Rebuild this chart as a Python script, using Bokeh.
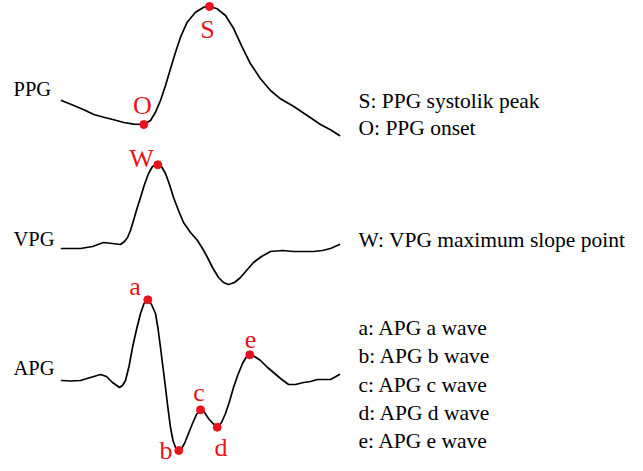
from bokeh.plotting import figure
from bokeh.models import Range1d
from bokeh.core.properties import value
from bokeh.embed import file_html
from bokeh.resources import INLINE

# ---- data (in picture pixel units) ----
ppg_x = [61, 73.3, 83.3, 93.3, 103.3, 113.3, 123.3, 133.3, 143.3, 150, 155, 160, 165, 170, 175, 180,
         186.7, 195, 203.3, 209, 216.7, 225, 233.3, 241.7, 250, 260, 270, 280, 293.3, 306.7, 320, 330, 339]
ppg_y = [100, 105, 109.3, 114, 116.7, 119.3, 122, 123.7, 124, 120, 111.7, 100, 85, 68.3, 51.7, 36.7,
         21.7, 11.7, 6.7, 6, 8.3, 15, 28.3, 46.7, 63.3, 78.3, 90, 98.3, 106, 115, 124, 129.3, 135]

vpg_x = [61, 80, 92, 103, 112, 120, 124, 127, 130, 133, 136.5, 140, 144, 148, 152, 157.3, 161, 165, 169,
         173, 178, 183, 190, 197, 202, 207, 212, 218, 223, 228, 234, 240, 246, 253, 261, 270, 282, 293,
         303, 313, 322, 330, 339]
vpg_y = [248, 248, 246, 242, 243, 244, 241, 237, 230, 220, 208, 197, 184, 173, 166, 164, 166, 173, 184,
         197, 210, 222, 232, 240, 248, 257, 267, 277, 282, 284, 282, 277, 270, 262, 256, 251, 250, 251,
         251, 251, 250, 248, 244]

apg_x = [61, 70, 80, 90, 100, 106, 112, 119, 122, 125, 128.5, 132, 136, 140, 143.5, 147.3, 151, 155,
         157.5, 160, 162.5, 165, 167.5, 170, 172.5, 175, 178.3, 181, 184, 188, 192, 196, 200, 204, 208,
         212.5, 216.7, 221, 225, 229, 233, 237.5, 242, 245.5, 249.3, 254, 260, 266, 273, 280, 288, 295,
         303, 310, 317, 324, 330, 339]
apg_y = [380, 380.5, 380, 377, 374, 376, 382, 387, 385, 380, 366, 347, 329, 313, 303, 299, 304, 313,
         328, 347, 367, 387, 408, 427, 440, 447, 450, 448, 443, 433, 423, 414, 409, 412, 418, 423, 426.7,
         422, 413, 401, 387, 374, 363, 357, 354.3, 356, 360, 366, 372, 378, 384, 384, 382, 381, 379, 379,
         379, 374]

# marked points
pt_x = [209, 143.3, 157.3, 147.3, 178.3, 200, 216.7, 249.3]
pt_y = [6, 124, 164.3, 299.3, 450, 409.3, 426.7, 354.3]

# red point labels (center x, baseline y)
red_labels = ["S", "O", "W", "a", "b", "c", "d", "e"]
red_lx = [207, 142, 141, 134.5, 165.5, 198.5, 220.5, 250]
red_ly = [29, 105, 158, 286, 450, 392, 447, 339]

# signal names
sig_labels = ["PPG", "VPG", "APG"]
sig_lx = [13, 13, 13]
sig_ly = [88, 238, 367]

# legend descriptions
desc_labels = ["S: PPG systolik peak", "O: PPG onset", "W: VPG maximum slope point",
               "a: APG a wave", "b: APG b wave", "c: APG c wave", "d: APG d wave", "e: APG e wave"]
desc_x = [358] * 8
desc_y = [100.6, 127, 239, 327, 355.5, 384, 412, 440.5]

RED = "#e8131b"
FONT = value("Liberation Serif")

p = figure(width=627, height=463, output_backend="svg", toolbar_location=None,
           x_range=Range1d(0, 627), y_range=Range1d(463, 0),
           min_border=0, min_border_left=0, min_border_right=0, min_border_top=0, min_border_bottom=0)
p.axis.visible = False
p.grid.visible = False
p.outline_line_color = None
p.background_fill_color = "white"

for xs, ys in [(ppg_x, ppg_y), (vpg_x, vpg_y), (apg_x, apg_y)]:
    p.line(xs, ys, line_color="black", line_width=1.7, line_join="round", line_cap="round")

p.scatter(pt_x, pt_y, size=8, fill_color=RED, line_color=RED)

p.text(red_lx, red_ly, text=red_labels, text_font=FONT, text_font_size="26px",
       text_color=RED, text_align="center", text_baseline="alphabetic")
p.text(sig_lx, sig_ly, text=sig_labels, text_font=FONT, text_font_size="20.5px",
       text_color="black", text_align="left", text_baseline="alphabetic")
p.text(desc_x, desc_y, text=desc_labels, text_font=FONT, text_font_size="21.5px",
       text_color="black", text_align="left", text_baseline="alphabetic")

open("out.html", "w").write(file_html(p, INLINE))
